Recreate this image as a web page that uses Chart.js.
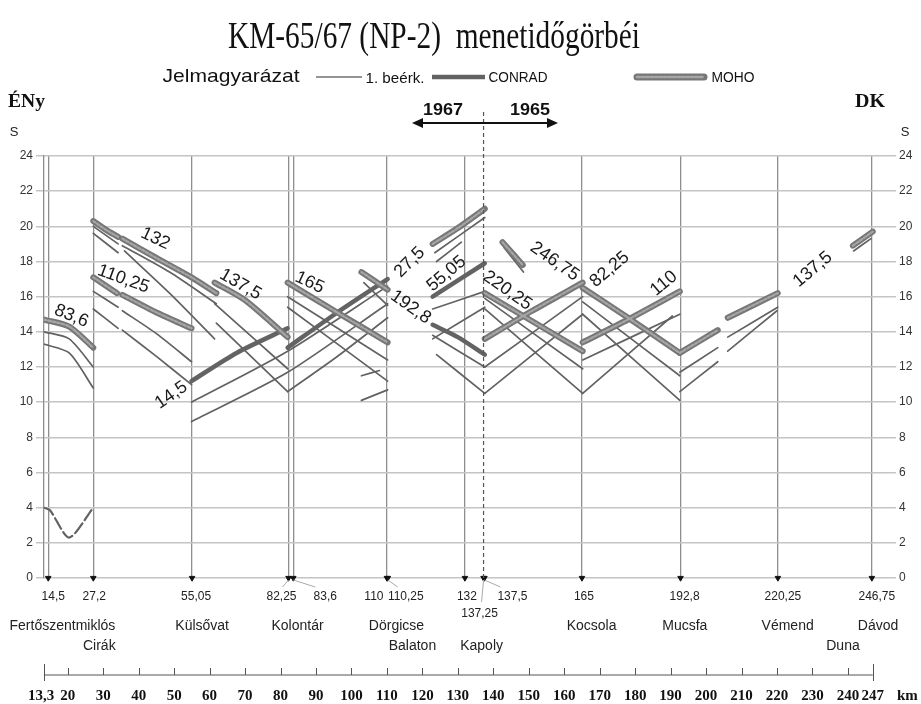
<!DOCTYPE html>
<html>
<head>
<meta charset="utf-8">
<script src="https://cdn.jsdelivr.net/npm/chart.js@4.4.0/dist/chart.umd.min.js"></script>
<style>
  body { margin: 0; background: #fff; }
  #chart { display: block; }
</style>
</head>
<body>
<canvas id="chart" width="921" height="704"></canvas>
<script>
// Shot points along the profile (km) and their labels
var shotKm = [14.5, 27.2, 55.05, 82.25, 83.6, 110, 110.25, 132, 137.25, 137.5, 165, 192.8, 220.25, 246.75];
var shotLabels = ['14,5', '27,2', '55,05', '82,25', '83,6', '110', '110,25', '132', '137,25', '137,5', '165', '192,8', '220,25', '246,75'];

// Place names and where they sit along the profile (km)
var placeNames = ['Fertőszentmiklós', 'Cirák', 'Külsővat', 'Kolontár', 'Dörgicse', 'Balaton', 'Kapoly', 'Kocsola', 'Mucsfa', 'Vémend', 'Duna', 'Dávod'];
var placeKm = [18.5, 28.9, 57.9, 84.8, 112.7, 117.2, 136.7, 167.7, 194.0, 223.0, 238.6, 248.5];

// Distance scale under the chart
var kmTicks = [13.3, 20, 30, 40, 50, 60, 70, 80, 90, 100, 110, 120, 130, 140, 150, 160, 170, 180, 190, 200, 210, 220, 230, 240, 247];
var kmTickLabels = ['13,3', '20', '30', '40', '50', '60', '70', '80', '90', '100', '110', '120', '130', '140', '150', '160', '170', '180', '190', '200', '210', '220', '230', '240', '247'];

// Travel time curves [km, s]
var firstArrivals = [
    [[13.3, 14.0], [20.4, 13.6], [27.2, 12.0]],
    [[13.3, 13.3], [20.4, 12.8], [27.2, 10.8]],
    [[27.2, 20.0], [34.2, 19.0]],
    [[27.2, 19.6], [34.2, 18.5]],
    [[35.4, 18.9], [48.7, 17.4], [61.9, 15.6]],
    [[36.0, 18.6], [48.7, 16.2], [61.4, 13.6]],
    [[27.2, 16.3], [34.2, 15.4]],
    [[35.4, 15.2], [45.0, 13.9], [54.9, 12.3]],
    [[27.2, 15.3], [34.2, 14.2]],
    [[35.4, 14.1], [45.0, 12.6], [54.9, 11.0]],
    [[61.4, 15.6], [82.0, 11.9]],
    [[61.9, 14.5], [82.0, 10.6]],
    [[54.9, 10.0], [82.0, 12.9], [110.2, 16.6]],
    [[54.9, 8.9], [82.0, 11.7], [110.2, 15.6]],
    [[82.0, 10.6], [96.0, 12.6], [110.2, 14.8]],
    [[82.0, 16.0], [110.2, 12.4]],
    [[82.0, 15.4], [110.2, 11.2]],
    [[103.5, 16.8], [110.2, 15.5]],
    [[102.8, 11.5], [107.9, 11.8]],
    [[102.8, 10.1], [110.2, 10.7]],
    [[123.5, 18.5], [137.6, 20.5]],
    [[124.0, 18.0], [131.0, 19.1]],
    [[122.9, 15.3], [137.6, 16.3]],
    [[122.9, 13.6], [137.6, 15.4]],
    [[122.9, 13.8], [137.6, 12.0]],
    [[124.0, 12.7], [137.6, 10.5]],
    [[143.0, 18.8], [148.5, 17.4]],
    [[137.6, 15.9], [165.2, 11.9]],
    [[137.6, 15.3], [165.2, 10.5]],
    [[137.6, 12.0], [165.2, 16.0]],
    [[137.6, 10.5], [165.2, 15.0]],
    [[165.2, 15.7], [192.6, 11.5]],
    [[165.2, 15.0], [192.6, 10.1]],
    [[165.2, 12.4], [192.6, 15.0]],
    [[165.2, 10.5], [190.5, 14.9]],
    [[192.6, 11.7], [203.3, 13.1]],
    [[206.1, 13.7], [220.2, 15.4]],
    [[192.6, 10.6], [203.3, 12.3]],
    [[206.1, 12.9], [220.0, 15.2]],
    [[241.6, 18.6], [246.5, 19.3]]
];
var directWave = [[13.3, 4.0], [15.0, 3.85], [20.4, 2.3], [27.2, 4.0]];
var conradCurves = [
    [[54.9, 11.2], [67.6, 12.8], [82.0, 14.2]],
    [[82.0, 13.1], [96.0, 15.1], [110.2, 17.0]],
    [[122.9, 16.0], [137.6, 17.9]],
    [[122.9, 14.4], [130.0, 13.7], [137.6, 12.7]]
];
var mohoCurves = [
    [[13.3, 14.7], [20.4, 14.3], [27.2, 13.1]],
    [[27.2, 20.3], [30.8, 19.8], [34.2, 19.4]],
    [[35.4, 19.3], [45.0, 18.2], [54.9, 17.1], [61.9, 16.2]],
    [[27.2, 17.1], [33.9, 16.2]],
    [[35.4, 16.1], [45.0, 15.1], [54.9, 14.2]],
    [[61.4, 16.8], [70.0, 15.8], [82.0, 13.7]],
    [[82.0, 16.8], [96.0, 15.1], [110.2, 13.4]],
    [[102.8, 17.4], [110.2, 16.4]],
    [[122.9, 19.0], [130.0, 19.9], [137.6, 21.0]],
    [[142.6, 19.1], [148.3, 17.8]],
    [[137.6, 16.2], [151.0, 14.6], [165.2, 12.9]],
    [[137.6, 13.6], [151.0, 15.2], [165.2, 16.8]],
    [[165.2, 16.5], [178.0, 14.8], [192.6, 12.8]],
    [[165.2, 13.4], [178.0, 14.7], [192.6, 16.3]],
    [[192.6, 12.8], [203.3, 14.1]],
    [[206.1, 14.8], [220.2, 16.2]],
    [[241.4, 18.9], [247.0, 19.7]]
];

// Shot numbers written along the curves
var curveLabels = ['83,6', '110,25', '132', '137,5', '14,5', '165', '27,5', '192,8', '55,05', '220,25', '246,75', '82,25', '110', '137,5'];
var curveLabelKm = [21.0, 35.7, 44.7, 68.7, 49.2, 88.2, 116.4, 116.7, 126.8, 144.0, 157.3, 172.8, 188.1, 230.1];
var curveLabelS = [14.9, 17.0, 19.3, 16.7, 10.4, 16.8, 17.95, 15.4, 17.3, 16.35, 18.0, 17.55, 16.75, 17.55];
var curveLabelAngle = [22, 20, 25, 30, -35, 25, -45, 35, -40, 35, 35, -40, -40, -40];

// label offsets for the shot numbers under the axis (px, row)
var shotLabelDx = [5, 1, 4, -7, 32, -13, 18, 2, -4, 28, 2, 4, 5, 5];
var shotLabelRow = [0, 0, 0, 0, 0, 0, 0, 0, 1, 0, 0, 0, 0, 0];
var placeRow = [0, 1, 0, 0, 0, 1, 1, 0, 0, 0, 1, 0];

function toPoints(curve) {
    return curve.map(function (p) { return { x: p[0], y: p[1] }; });
}

var datasets = [];
firstArrivals.forEach(function (c) {
    datasets.push({ data: toPoints(c), showLine: true, borderColor: '#626262', borderWidth: 1.7, order: 4 });
});
datasets.push({ data: toPoints(directWave), showLine: true, borderColor: '#626262', borderWidth: 2.2, borderDash: [12, 4], order: 4 });
conradCurves.forEach(function (c) {
    datasets.push({ data: toPoints(c), showLine: true, borderColor: '#636363', borderWidth: 4.5, order: 3 });
});
mohoCurves.forEach(function (c) {
    // base stroke plus a light dashed core for the beaded look
    datasets.push({ data: toPoints(c), showLine: true, borderColor: '#777777', borderWidth: 6, order: 2 });
    datasets.push({ data: toPoints(c), showLine: true, borderColor: '#a6a6a6', borderWidth: 2.2, borderDash: [2.5, 2], order: 1 });
});
// shot point markers on the time axis
datasets.push({
    data: shotKm.map(function (k) { return { x: k, y: 0 }; }),
    showLine: false, pointStyle: 'triangle', rotation: 180, pointRadius: 3.2,
    backgroundColor: '#111', borderColor: '#111', clip: false, order: 0
});

function drawText(ctx, str, x, y, font, color, width, align) {
    ctx.save();
    ctx.font = font;
    ctx.fillStyle = color || '#222';
    ctx.textAlign = align || 'center';
    ctx.textBaseline = 'alphabetic';
    ctx.translate(x, y);
    if (width) {
        var w = ctx.measureText(str).width;
        ctx.scale(width / w, 1);
    }
    ctx.fillText(str, 0, 0);
    ctx.restore();
}

function strokeMoho(ctx, x1, x2, y) {
    ctx.save();
    ctx.lineCap = 'round';
    ctx.strokeStyle = '#777777'; ctx.lineWidth = 7;
    ctx.beginPath(); ctx.moveTo(x1, y); ctx.lineTo(x2, y); ctx.stroke();
    ctx.strokeStyle = '#a6a6a6'; ctx.lineWidth = 2.6; ctx.setLineDash([2.5, 2]);
    ctx.beginPath(); ctx.moveTo(x1, y); ctx.lineTo(x2, y); ctx.stroke();
    ctx.restore();
}

var annotations = {
    id: 'annotations',
    afterDraw: function (chart) {
        var ctx = chart.ctx;
        var xs = chart.scales.x;
        var ys = chart.scales.y;
        var area = chart.chartArea;
        var sans = '"Liberation Sans", Arial, sans-serif';
        var serif = '"Liberation Serif", "Times New Roman", serif';

        // title
        drawText(ctx, 'KM-65/67 (NP-2)  menetidőgörbéi', 434, 48, '37px ' + serif, '#111', 412);

        // legend
        drawText(ctx, 'Jelmagyarázat', 231, 82, '19px ' + sans, '#111', 137);
        ctx.save();
        ctx.strokeStyle = '#707070'; ctx.lineWidth = 1.5;
        ctx.beginPath(); ctx.moveTo(316, 77); ctx.lineTo(362, 77); ctx.stroke();
        ctx.strokeStyle = '#636363'; ctx.lineWidth = 4.5;
        ctx.beginPath(); ctx.moveTo(432, 77); ctx.lineTo(485, 77); ctx.stroke();
        ctx.restore();
        strokeMoho(ctx, 637, 704, 77);
        drawText(ctx, '1. beérk.', 395, 83, '15px ' + sans, '#111', 59);
        drawText(ctx, 'CONRAD', 518, 82, '15px ' + sans, '#111', 59);
        drawText(ctx, 'MOHO', 733, 82, '15px ' + sans, '#111', 43);

        // direction marks
        drawText(ctx, 'ÉNy', 8, 107, 'bold 19px ' + serif, '#111', 37, 'left');
        drawText(ctx, 'DK', 855, 107, 'bold 19px ' + serif, '#111', 30, 'left');
        drawText(ctx, 'S', 14, 136, '13px ' + sans, '#222');
        drawText(ctx, 'S', 905, 136, '13px ' + sans, '#222');

        // 1967 / 1965 arrow and the dashed join line
        var xj = xs.getPixelForValue(137.25);
        ctx.save();
        ctx.strokeStyle = '#555'; ctx.lineWidth = 1.2; ctx.setLineDash([4, 3]);
        ctx.beginPath(); ctx.moveTo(xj, 112); ctx.lineTo(xj, area.bottom); ctx.stroke();
        ctx.setLineDash([]);
        ctx.strokeStyle = '#111'; ctx.fillStyle = '#111'; ctx.lineWidth = 2;
        ctx.beginPath(); ctx.moveTo(420, 123); ctx.lineTo(550, 123); ctx.stroke();
        ctx.beginPath(); ctx.moveTo(412, 123); ctx.lineTo(423, 118); ctx.lineTo(423, 128); ctx.closePath(); ctx.fill();
        ctx.beginPath(); ctx.moveTo(558, 123); ctx.lineTo(547, 118); ctx.lineTo(547, 128); ctx.closePath(); ctx.fill();
        ctx.restore();
        drawText(ctx, '1967', 443, 115, 'bold 16px ' + sans, '#111', 40);
        drawText(ctx, '1965', 530, 115, 'bold 16px ' + sans, '#111', 40);

        // shot numbers on the curves
        ctx.save();
        ctx.font = '18px ' + sans;
        ctx.fillStyle = '#1a1a1a';
        ctx.textAlign = 'center';
        ctx.textBaseline = 'middle';
        curveLabels.forEach(function (t, i) {
            ctx.save();
            ctx.translate(xs.getPixelForValue(curveLabelKm[i]), ys.getPixelForValue(curveLabelS[i]));
            ctx.rotate(curveLabelAngle[i] * Math.PI / 180);
            ctx.fillText(t, 0, 0);
            ctx.restore();
        });
        ctx.restore();

        // shot numbers under the axis, with leader lines
        ctx.save();
        ctx.strokeStyle = '#aaa'; ctx.lineWidth = 1;
        [[3, -6, 587], [4, 22, 587], [6, 10, 587], [8, -2, 602], [9, 16, 587]].forEach(function (l) {
            var xm = xs.getPixelForValue(shotKm[l[0]]);
            ctx.beginPath(); ctx.moveTo(xm, area.bottom + 2); ctx.lineTo(xm + l[1], l[2]); ctx.stroke();
        });
        ctx.restore();
        shotLabels.forEach(function (t, i) {
            var x = xs.getPixelForValue(shotKm[i]) + shotLabelDx[i];
            drawText(ctx, t, x, shotLabelRow[i] ? 617 : 600, '12px ' + sans, '#222');
        });

        // place names
        placeNames.forEach(function (t, i) {
            drawText(ctx, t, xs.getPixelForValue(placeKm[i]), placeRow[i] ? 650 : 630, '14px ' + sans, '#222');
        });

        // km scale
        var yk = 675;
        ctx.save();
        ctx.strokeStyle = '#555'; ctx.lineWidth = 1;
        ctx.beginPath();
        ctx.moveTo(xs.getPixelForValue(kmTicks[0]), yk);
        ctx.lineTo(xs.getPixelForValue(kmTicks[kmTicks.length - 1]), yk);
        ctx.stroke();
        kmTicks.forEach(function (k, i) {
            var x = Math.round(xs.getPixelForValue(k)) + 0.5;
            var long = (i === 0 || i === kmTicks.length - 1);
            ctx.beginPath();
            ctx.moveTo(x, long ? 664 : 668);
            ctx.lineTo(x, long ? 681 : yk);
            ctx.stroke();
        });
        ctx.restore();
        kmTickLabels.forEach(function (t, i) {
            var dx = i === 0 ? -3 : 0;
            drawText(ctx, t, xs.getPixelForValue(kmTicks[i]) + dx, 700, 'bold 15px ' + serif, '#111');
        });
        drawText(ctx, 'km', 897, 700, 'bold 15px ' + serif, '#111', null, 'left');
    }
};

var hiddenGrid = [110.25, 137.25, 137.5];

new Chart(document.getElementById('chart').getContext('2d'), {
    type: 'scatter',
    data: { datasets: datasets },
    options: {
        responsive: false,
        animation: false,
        layout: { padding: { top: 156, left: 0, right: 0, bottom: 0 } },
        elements: {
            point: { radius: 0, hoverRadius: 0 },
            line: { tension: 0.25, borderCapStyle: 'round', borderJoinStyle: 'round' }
        },
        plugins: {
            legend: { display: false },
            tooltip: { enabled: false }
        },
        scales: {
            x: {
                type: 'linear',
                position: 'bottom',
                min: 13.3,
                max: 251.3,
                afterBuildTicks: function (scale) {
                    scale.ticks = shotKm.map(function (v) { return { value: v }; });
                },
                afterFit: function (scale) { scale.height = 126; },
                ticks: { display: false },
                grid: {
                    color: function (c) {
                        return hiddenGrid.indexOf(c.tick.value) >= 0 ? 'rgba(0,0,0,0)' : '#8e8e8e';
                    },
                    lineWidth: 1.3,
                    drawTicks: false
                },
                border: { display: false }
            },
            y: {
                position: 'left',
                min: 0,
                max: 24,
                afterFit: function (scale) { scale.width = 44; },
                ticks: { stepSize: 2, padding: 3, color: '#333', font: { family: 'Liberation Sans', size: 12 } },
                grid: { color: '#c4c4c4', lineWidth: 1.5, tickLength: 8 },
                border: { color: '#8e8e8e', width: 1.3 }
            },
            y2: {
                position: 'right',
                min: 0,
                max: 24,
                afterFit: function (scale) { scale.width = 33; },
                ticks: { stepSize: 2, padding: 3, color: '#333', font: { family: 'Liberation Sans', size: 12 } },
                grid: { drawOnChartArea: false, color: '#c4c4c4', lineWidth: 1.5, tickLength: 8 },
                border: { display: false }
            }
        }
    },
    plugins: [annotations]
});
</script>
</body>
</html>
